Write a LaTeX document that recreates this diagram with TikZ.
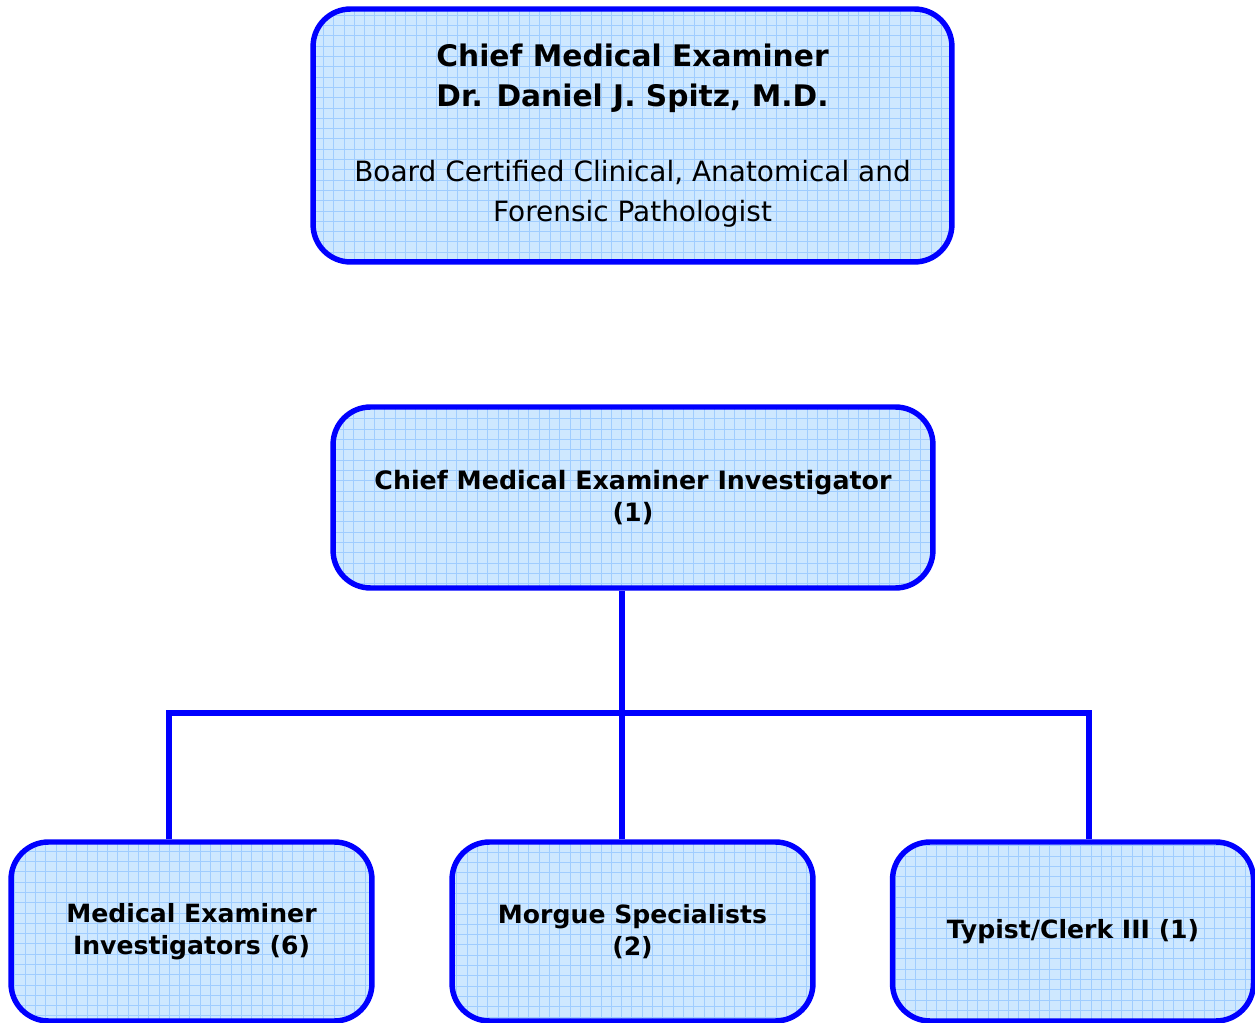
\documentclass[tikz,border=0pt]{standalone}
\usepackage{fontspec}
\setmainfont{DejaVu Sans}
\usetikzlibrary{positioning}
\definecolor{orgblue}{RGB}{0,0,255}
\definecolor{cellfill}{RGB}{206,232,255}
\definecolor{cellgrid}{RGB}{160,205,255}
\newcommand{\chiefbody}{\fontsize{15.9}{22}\selectfont\mdseries}

\begin{document}
\begin{tikzpicture}[x=0.02cm, y=-0.02cm,
  every node/.style={inner sep=0pt},
  orgbox/.style={draw=orgblue, line width=3.1pt, rounded corners=0.75cm, fill=cellfill, align=center,
    path picture={\draw[cellgrid, line width=0.5pt, step=0.206cm] (path picture bounding box.south west) grid (path picture bounding box.north east);}},
  unitbox/.style={orgbox, minimum width=7.22cm, minimum height=3.58cm,
    font=\fontsize{14.3}{18}\selectfont\bfseries},
  link/.style={draw=orgblue, line width=3.1pt}]
  \useasboundingbox (0,0) rectangle (1255,1023);

  % chief and investigator
  \node[orgbox, minimum width=12.78cm, minimum height=5.06cm,
    font=\fontsize{16.9}{22.7}\selectfont\bfseries] (chief) at (632.5,135.5)
    {Chief Medical Examiner\\
     Dr. Daniel J. Spitz, M.D.\\[20pt]
     \chiefbody Board Certified Clinical, Anatomical and\\
     \chiefbody Forensic Pathologist};
  \node[orgbox, minimum width=12cm, minimum height=3.62cm,
    font=\fontsize{14.4}{18.7}\selectfont\bfseries] (cmei) at (633,497.5)
    {Chief Medical Examiner Investigator\\(1)};

  % staff
  \node[unitbox] (mei) at (191.5,931.5) {Medical Examiner\\Investigators (6)};
  \node[unitbox] (morgue) at (632.5,931.5) {Morgue Specialists\\(2)};
  \node[unitbox] (clerk) at (1073,931.5) {Typist/Clerk III (1)};

  \coordinate (bus) at (622,713);
  \coordinate (busl) at (169,713);
  \coordinate (busr) at (1089,713);
  \draw[link] (cmei.south -| bus) -- (bus);
  \draw[link] (busl |- mei.north) -- (busl) -- (busr) -- (busr |- clerk.north);
  \draw[link] (bus) -- (bus |- morgue.north);
\end{tikzpicture}
\end{document}
